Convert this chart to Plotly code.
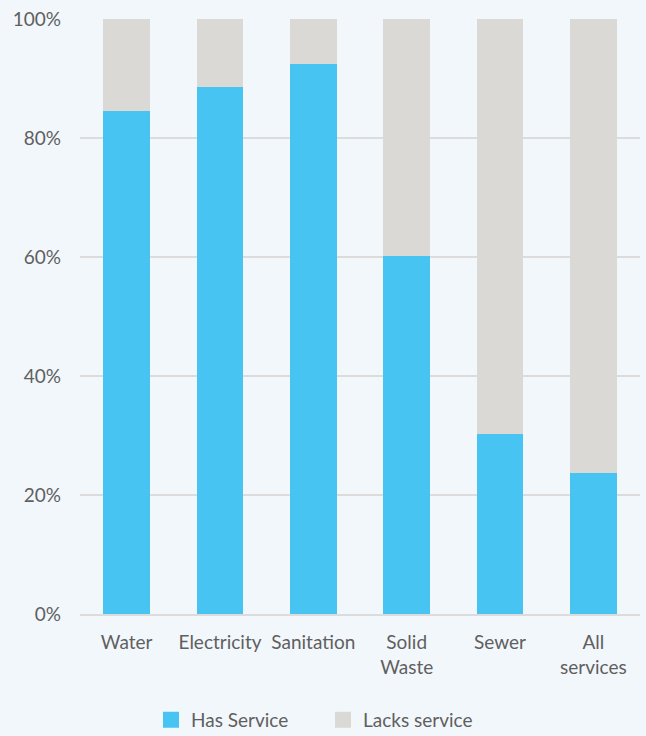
"""Share of households with access to basic services"""

from plotly import graph_objects as go

categories = ["Water", "Electricity", "Sanitation", "Solid<br>Waste", "Sewer", "All<br>services"]
has_service = [84.5, 88.5, 92.4, 60.2, 30.3, 23.7]
lacks_service = [100 - v for v in has_service]
tick_vals = [0, 20, 40, 60, 80, 100]
tick_text = [f"{v}%" for v in tick_vals]

BLUE = "#48c4f2"
GREY = "#dbd9d6"
BG = "#f2f7fc"
TEXT = "#5f5f5f"
FONT = "Lato, 'Noto Sans', sans-serif"

fig = go.Figure()
fig.add_trace(go.Bar(x=categories, y=has_service, name="Has Service", showlegend=False,
                     marker=dict(color=BLUE, line=dict(width=0))))
fig.add_trace(go.Bar(x=categories, y=lacks_service, name="Lacks service", showlegend=False,
                     marker=dict(color=GREY, line=dict(width=0))))

# legend-only entries with larger square swatches
for name, color in [("Has Service", BLUE), ("Lacks service", GREY)]:
    fig.add_trace(go.Scatter(x=[None], y=[None], mode="markers", name=name,
                             marker=dict(symbol="square", size=19, color=color)))

fig.update_layout(
    barmode="stack",
    bargap=0.5,
    width=646,
    height=736,
    paper_bgcolor=BG,
    plot_bgcolor=BG,
    font=dict(family=FONT, size=19, color=TEXT),
    margin={"l": 80, "r": 6, "t": 19, "b": 122, "autoexpand": False},
    legend=dict(
        orientation="h",
        xref="container",
        x=0.5,
        xanchor="center",
        y=-0.178,
        yanchor="middle",
        font=dict(size=19, color=TEXT),
        entrywidth=127,
        traceorder="normal",
        bgcolor="rgba(0,0,0,0)",
    ),
    yaxis=dict(
        range=[0, 100],
        tickvals=tick_vals,
        ticktext=tick_text,
        showgrid=True,
        gridcolor="#dcdcdc",
        gridwidth=2,
        zeroline=False,
        ticks="",
        ticklabelstandoff=18,
        automargin=False,
    ),
    xaxis=dict(
        showline=True,
        linecolor="#dcdcdc",
        linewidth=2,
        ticks="",
        ticklabelstandoff=10,
        automargin=False,
    ),
)

fig.write_html("out.html", config={"displayModeBar": False},
               post_script="document.body.style.margin='0';")
